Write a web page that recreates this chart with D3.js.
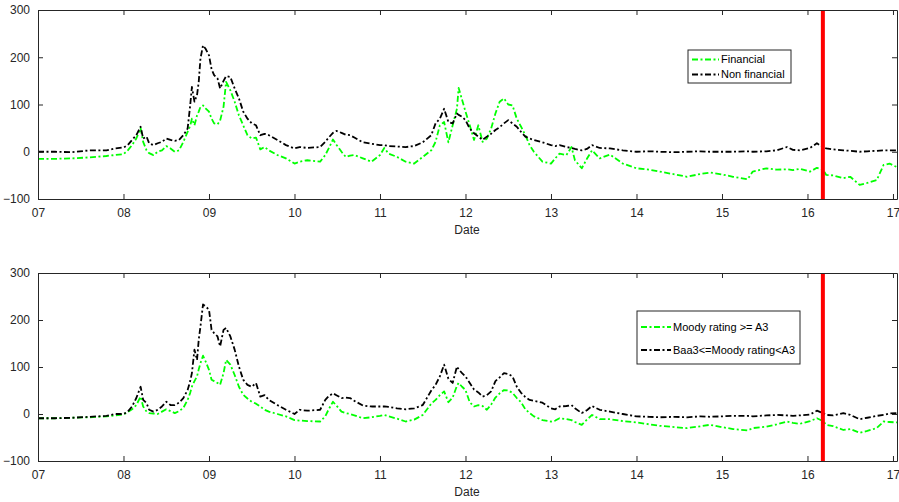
<!DOCTYPE html>
<html><head><meta charset="utf-8">
<script src="https://cdn.jsdelivr.net/npm/d3@7"></script>
<style>
html,body{margin:0;padding:0;background:#fff;}
svg{display:block;font-family:"Liberation Sans",Arial,sans-serif;}
</style></head>
<body><svg id="chart" width="899" height="502"></svg>
<script>
// ---- DATA (years since 2007 -> spread values) ----
const dates = [0,0.2,0.4,0.6,0.8,0.9,1.0,1.05,1.1,1.15,1.2,1.23,1.27,1.3,1.35,1.4,1.45,1.5,1.55,1.6,1.65,1.7,1.75,1.78,1.8,1.83,1.86,1.88,1.9,1.93,1.96,2.0,2.03,2.06,2.1,2.13,2.17,2.2,2.25,2.3,2.35,2.4,2.45,2.5,2.55,2.6,2.65,2.7,2.8,2.9,3.0,3.06,3.15,3.3,3.36,3.4,3.45,3.49,3.55,3.6,3.65,3.7,3.8,3.9,4.0,4.05,4.1,4.2,4.3,4.4,4.5,4.6,4.65,4.7,4.75,4.8,4.85,4.9,4.92,4.96,5.0,5.05,5.1,5.15,5.2,5.25,5.3,5.35,5.4,5.45,5.5,5.55,5.6,5.65,5.7,5.75,5.8,5.9,6.0,6.05,6.1,6.18,6.24,6.28,6.36,6.42,6.48,6.57,6.69,6.84,7.0,7.15,7.27,7.45,7.59,7.75,7.86,8.0,8.13,8.3,8.36,8.52,8.64,8.76,8.83,8.91,9.03,9.11,9.18,9.22,9.3,9.42,9.5,9.61,9.7,9.81,9.89,9.96,10.04,10.06];

const financial = [-15,-15,-14,-12,-9,-7,-5,3,14,28,50,21,3,-3,-7,0,3,12,7,0,3,21,42,55,70,56,77,85,95,98,92,85,70,60,58,66,95,148,130,106,77,56,35,28,30,5,10,3,-7,-14,-25,-21,-18,-21,-7,7,26,15,0,-11,-8,-7,-14,-21,-7,8,-4,-11,-21,-25,-11,3,21,56,63,20,56,91,135,110,85,56,25,56,21,28,49,81,106,113,100,98,70,53,35,14,0,-21,-25,-14,-4,-7,10,-18,-35,-15,3,-14,-6,-25,-35,-38,-42,-48,-53,-47,-44,-48,-53,-58,-42,-35,-38,-37,-39,-36,-42,-34,-38,-49,-50,-56,-53,-70,-66,-60,-28,-25,-32,-33];

const nonFinancial = [0,0,-1,3,3,7,9,14,25,35,53,28,32,18,14,18,21,28,25,23,25,35,49,98,137,106,120,148,197,225,218,204,175,162,155,134,150,160,158,134,113,85,70,60,56,35,38,35,25,14,7,10,8,10,21,30,40,44,40,36,35,30,20,17,14,14,12,11,10,12,20,35,60,70,91,63,60,81,78,74,67,49,39,32,25,32,38,46,52,60,67,60,53,42,32,28,25,20,14,12,14,10,8,6,3,6,14,8,7,3,0,1,0,-1,0,1,0,0,0,1,0,1,3,10,4,3,8,18,10,7,5,3,2,0,1,2,3,3,3,3];

const ratingHigh = [-9,-9,-8,-7,-5,-3,-1,4,10,19,37,16,5,2,1,0,5,10,6,2,6,13,30,45,58,70,80,95,108,124,112,94,73,70,66,62,87,115,105,83,58,41,33,26,22,16,9,5,0,-5,-13,-14,-15,-16,-5,10,26,18,5,2,0,-3,-9,-7,-4,-2,-5,-10,-16,-12,-2,22,30,40,48,25,35,60,66,58,51,25,16,19,17,9,20,35,44,51,50,45,34,25,10,2,-5,-13,-16,-14,-9,-11,-13,-17,-23,-12,-2,-11,-11,-15,-18,-22,-25,-28,-30,-26,-23,-28,-32,-35,-30,-27,-22,-16,-19,-21,-15,-9,-15,-23,-26,-34,-32,-40,-36,-30,-16,-17,-18,-18];

const ratingMid = [-9,-9,-8,-6,-4,0,0,5,16,34,58,30,23,9,5,9,16,26,19,19,24,34,51,70,87,137,115,158,186,233,229,222,179,172,165,144,179,183,165,137,101,73,62,58,66,37,40,30,19,9,0,9,7,9,30,38,44,40,34,35,34,28,18,16,16,16,15,12,10,12,19,50,62,80,105,75,66,101,95,87,80,66,52,46,37,40,48,70,78,87,85,80,58,45,36,30,28,24,12,10,16,17,19,12,2,8,17,9,5,0,-5,-6,-7,-6,-7,-5,-6,-5,-4,-4,-5,-3,-2,-3,-4,-3,-1,7,2,-2,-3,2,-2,-11,-8,-4,-2,1,2,2];

const xTickLabels = ["07","08","09","10","11","12","13","14","15","16","17"];
const yTicks = [-100,0,100,200,300];
const eventDate = 9.18; // vertical red marker (years since 2007)
const topLegend = ["Financial","Non financial"];
const bottomLegend = ["Moody rating >= A3","Baa3<=Moody rating<A3"];

// ---- DRAW ----
const svg = d3.select("#chart");
const axisColor = "#262626";

function panel(opt){
  const x = d3.scaleLinear().domain([0,10.047]).range([38,897]);
  const y = d3.scaleLinear().domain([-100,300]).range([opt.bottom,opt.top]);
  const g = svg.append("g");

  const clipId = "clip"+opt.id;
  svg.append("clipPath").attr("id",clipId).append("rect")
    .attr("x",38).attr("y",opt.top).attr("width",859).attr("height",opt.bottom-opt.top);

  const line = d3.line().x((d,i)=>x(dates[i])).y(d=>y(d));
  const plot = g.append("g").attr("clip-path",`url(#${clipId})`);
  opt.series.forEach(s=>{
    plot.append("path").datum(s.values)
      .attr("d",line).attr("fill","none")
      .attr("stroke",s.color).attr("stroke-width",1.8)
      .attr("stroke-dasharray","6,2.5,2,2.5")
      .attr("stroke-linejoin","round");
  });
  // red vertical marker
  g.append("line").attr("x1",x(eventDate)).attr("x2",x(eventDate))
    .attr("y1",opt.top).attr("y2",opt.bottom)
    .attr("stroke","#ff0000").attr("stroke-width",4);

  // axes
  const tickVals = xTickLabels.map((d,i)=>i);
  const xb = d3.axisBottom(x).tickValues(tickVals).tickFormat((d,i)=>xTickLabels[i]).tickSizeInner(-5).tickSizeOuter(0).tickPadding(9);
  const xt = d3.axisTop(x).tickValues(tickVals).tickFormat("").tickSizeInner(-5).tickSizeOuter(0);
  const yl = d3.axisLeft(y).tickValues(yTicks).tickSizeInner(-5).tickSizeOuter(0).tickPadding(8);
  const yr = d3.axisRight(y).tickValues(yTicks).tickFormat("").tickSizeInner(-5).tickSizeOuter(0);
  const axes = [
    g.append("g").attr("transform",`translate(0,${opt.bottom})`).call(xb),
    g.append("g").attr("transform",`translate(0,${opt.top})`).call(xt),
    g.append("g").attr("transform",`translate(38,0)`).call(yl),
    g.append("g").attr("transform",`translate(897,0)`).call(yr)
  ];
  axes.forEach(a=>{
    a.selectAll("path,line").attr("stroke",axisColor).attr("stroke-width",1);
    a.selectAll("text").attr("fill",axisColor).style("font-size","12px").style("font-family","Liberation Sans, Arial, sans-serif");
  });
  g.append("text").attr("x",467).attr("y",opt.bottom+35).attr("text-anchor","middle")
    .attr("fill",axisColor).style("font-size","12px").text("Date");

  // legend
  const L = opt.legend;
  const lg = g.append("g");
  lg.append("rect").attr("x",L.x).attr("y",L.y).attr("width",L.w).attr("height",L.h)
    .attr("fill","#fff").attr("stroke",axisColor).attr("stroke-width",1);
  opt.series.forEach((s,i)=>{
    const yy = L.y + L.first + i*L.step;
    lg.append("line").attr("x1",L.x+4).attr("x2",L.x+4+L.sample).attr("y1",yy).attr("y2",yy)
      .attr("stroke",s.color).attr("stroke-width",1.8).attr("stroke-dasharray","6,2.5,2,2.5");
    lg.append("text").attr("x",L.x+6+L.sample).attr("y",yy).attr("dy","0.35em")
      .attr("fill","#000").style("font-size","11px").text(s.name);
  });
}

panel({id:1, top:10, bottom:199,
  series:[{name:topLegend[0],values:financial,color:"#00ff00"},{name:topLegend[1],values:nonFinancial,color:"#000"}],
  legend:{x:688,y:50,w:103,h:33,first:9.5,step:15,sample:27}});
panel({id:2, top:273, bottom:461,
  series:[{name:bottomLegend[0],values:ratingHigh,color:"#00ff00"},{name:bottomLegend[1],values:ratingMid,color:"#000"}],
  legend:{x:637,y:311,w:163,h:53,first:16,step:23,sample:30}});
</script></body></html>
